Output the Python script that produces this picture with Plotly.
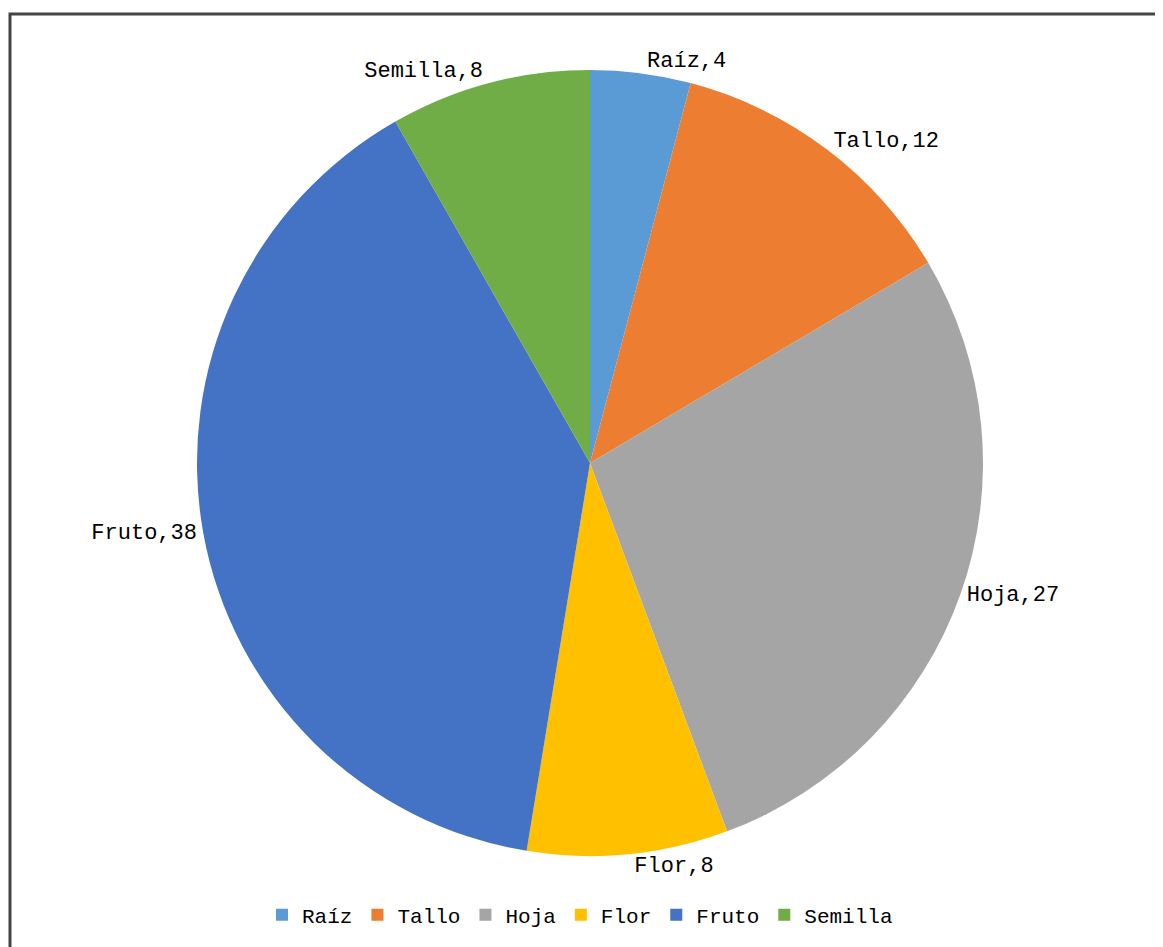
import plotly.graph_objects as go

labels = ["Raíz", "Tallo", "Hoja", "Flor", "Fruto", "Semilla"]
values = [4, 12, 27, 8, 38, 8]
colors = ["#5B9BD5", "#ED7D31", "#A5A5A5", "#FFC000", "#4472C4", "#70AD47"]

W, H = 1163, 947
off = 8  # page offset of the plot in the browser
cx, cy, r = 590 - off, 463 - off, 393

fig = go.Figure(go.Pie(
    labels=labels,
    values=values,
    sort=False,
    direction="clockwise",
    rotation=0,
    marker=dict(colors=colors, line=dict(width=0)),
    textposition="outside",
    texttemplate="%{label},%{value}",
    textfont=dict(family="Liberation Mono", size=22, color="#000000"),
    automargin=False,
    domain=dict(x=[(cx - r) / W, (cx + r) / W], y=[(H - cy - r) / H, (H - cy + r) / H]),
    hoverinfo="label+value",
))

fig.update_layout(
    width=W, height=H,
    margin=dict(l=0, r=0, t=0, b=0),
    paper_bgcolor="white",
    plot_bgcolor="white",
    showlegend=True,
    legend=dict(
        orientation="h",
        x=(580 - off) / W, xanchor="center",
        y=(H - (915 - off)) / H, yanchor="middle",
        font=dict(family="Liberation Mono", size=21, color="#000000"),
        itemwidth=30,
        tracegroupgap=0,
    ),
    shapes=[dict(
        type="rect", xref="paper", yref="paper",
        x0=(10 - off) / W, x1=1.05, y0=-0.05, y1=(H - (14 - off)) / H,
        line=dict(color="#444444", width=3),
        fillcolor="rgba(0,0,0,0)",
    )],
)

fig.write_html("out.html")
